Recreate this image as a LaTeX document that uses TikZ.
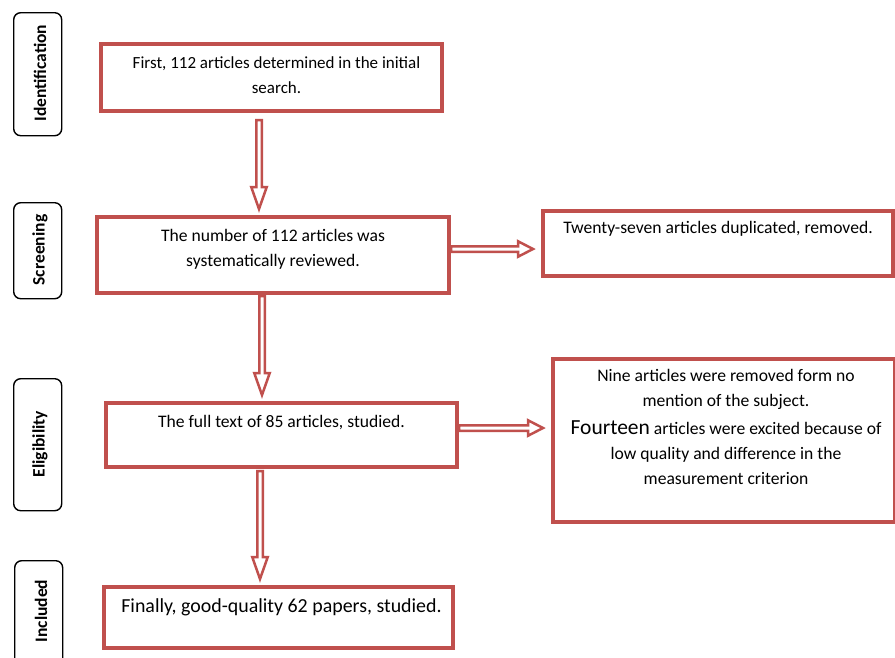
\documentclass[tikz,border=0pt]{standalone}
\usepackage{fontspec}
\setmainfont{Carlito}
\usetikzlibrary{calc}
\definecolor{boxred}{HTML}{C0504D}
\tikzset{
  redbox/.style={draw=boxred, line width=4pt, fill=white, inner sep=0pt, anchor=north west},
  boxtext/.style={anchor=north, inner sep=0pt, align=center, font=\fontsize{17.6}{25}\selectfont},
  stagebox/.style={draw=black, line width=1.4pt, rounded corners=7pt, fill=white, inner sep=0pt, anchor=north west, minimum width=48pt},
  stagetext/.style={rotate=90, inner sep=0pt, font=\bfseries\fontsize{17.5}{20}\selectfont},
  blk/.style={draw=boxred, line width=2.5pt, fill=white, line join=miter},
}
% vertical hollow arrow from #1 down to #2
\newcommand\vblock[2]{%
  \draw[blk] ($(#1)+(-2.75,0)$) -- ($(#2)+(-2.75,-22)$) -- ($(#2)+(-7.75,-22)$) -- (#2)
    -- ($(#2)+(7.75,-22)$) -- ($(#2)+(2.75,-22)$) -- ($(#1)+(2.75,0)$) -- cycle;}
% horizontal hollow arrow from #1 right to #2
\newcommand\hblock[2]{%
  \draw[blk] ($(#1)+(0,-2.75)$) -- ($(#2)+(-15,-2.75)$) -- ($(#2)+(-15,-7.75)$) -- (#2)
    -- ($(#2)+(-15,7.75)$) -- ($(#2)+(-15,2.75)$) -- ($(#1)+(0,2.75)$) -- cycle;}
\begin{document}
\begin{tikzpicture}[x=1pt, y=-1pt]
\useasboundingbox (0,0) rectangle (895,657);

% stage labels
\node[stagebox, minimum height=123pt] (s1) at (13,12) {};
\node[stagebox, minimum height=96pt]  (s2) at (13,202) {};
\node[stagebox, minimum height=132pt] (s3) at (13,378) {};
\node[stagebox, minimum height=110pt] (s4) at (14,560) {};
\node[stagetext] (l1) at (40,73) {Identification};
\node[stagetext] (l2) at (40,250) {Screening};
\node[stagetext] (l3) at (40,444) {Eligibility};
\node[stagetext] (l4) at (41,611) {Included};

% boxes
\node[redbox, minimum width=341pt, minimum height=67pt] (b1) at (99,42) {};
\node[redbox, minimum width=352pt, minimum height=76pt] (b2) at (95,215) {};
\node[redbox, minimum width=350pt, minimum height=65pt] (b3) at (541,209) {};
\node[redbox, minimum width=351pt, minimum height=64pt] (b4) at (104,401) {};
\node[redbox, minimum width=342pt, minimum height=163pt] (b5) at (551,357) {};
\node[redbox, minimum width=349pt, minimum height=61pt] (b6) at (102,585) {};

\node[boxtext, font=\fontsize{17}{25}\selectfont] (t1) at ($(b1.north)+(5,13.5)$) {\rule{0pt}{13pt}First, 112 articles determined in the initial\\search.};
\node[boxtext] (t2) at ($(b2.north)+(0,13)$) {\rule{0pt}{13pt}The number of 112 articles was\\systematically reviewed.};
\node[boxtext] (t3) at ($(b3.north)+(0,11.5)$) {\rule{0pt}{13pt}Twenty-seven articles duplicated, removed.};
\node[boxtext] (t4) at ($(b4.north)+(0,13)$) {\rule{0pt}{13pt}The full text of 85 articles, studied.};
\node[boxtext] (t5) at ($(b5.north)+(2,11)$) {\rule{0pt}{13pt}Nine articles were removed form no\\mention of the subject.\\[3pt]
  {\fontsize{21.5}{25}\selectfont Fourteen} articles were excited because of\\low quality and difference in the\\measurement criterion};
\node[boxtext, font=\fontsize{19.9}{25}\selectfont] (t6) at ($(b6.north)+(3,12)$) {\rule{0pt}{15pt}Finally, good-quality 62 papers, studied.};

% arrows
\coordinate (a1) at (259,120);
\path (a1|-b2.north) ++(0,-6) coordinate (e1);
\vblock{a1}{e1}
\coordinate (a2) at (262,296);
\path (a2|-b4.north) ++(0,-6) coordinate (e2);
\vblock{a2}{e2}
\coordinate (a3) at (260,471);
\path (a3|-b6.north) ++(0,-6) coordinate (e3);
\vblock{a3}{e3}
\coordinate (a4) at (451,249);
\path (a4-|b3.west) ++(-8,0) coordinate (e4);
\hblock{a4}{e4}
\coordinate (a5) at (459,428);
\path (a5-|b5.west) ++(-8,0) coordinate (e5);
\hblock{a5}{e5}
\end{tikzpicture}
\end{document}
